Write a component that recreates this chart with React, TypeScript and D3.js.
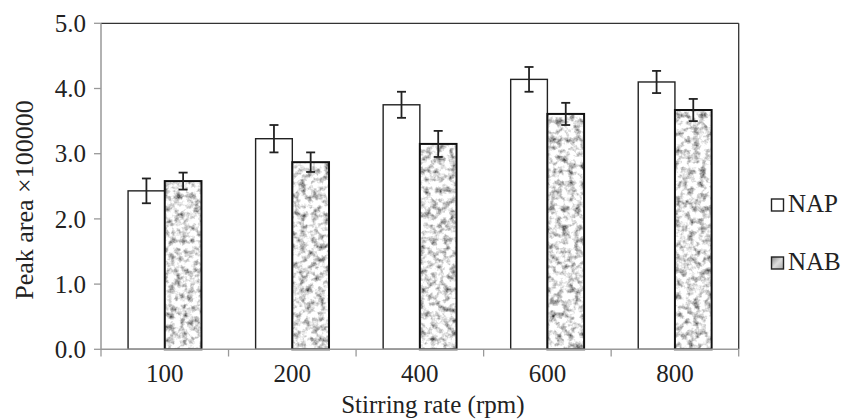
import React from "react";
import * as d3 from "d3";

const categories = ["100", "200", "400", "600", "800"];
const napValues = [2.43, 3.23, 3.75, 4.14, 4.10];
const napErrors = [0.19, 0.21, 0.20, 0.19, 0.17];
const nabValues = [2.58, 2.87, 3.15, 3.61, 3.67];
const nabErrors = [0.13, 0.15, 0.20, 0.17, 0.17];
const yTicks = [0, 1, 2, 3, 4, 5];
const seriesNames = ["NAP", "NAB"];

const W = 856;
const H = 419;
const left = 101;
const right = 738.7;
const top = 23.3;
const bottom = 349.3;
const FONT = "'Liberation Serif', 'Times New Roman', serif";
const FS = 25;

export default function App() {
  const x = d3.scaleBand<string>().domain(categories).range([left, right]).paddingInner(0).paddingOuter(0);
  const y = d3.scaleLinear().domain([0, 5]).range([bottom, top]);
  const bw = 36.7;
  const series = [
    { name: seriesNames[0], values: napValues, errors: napErrors, offset: -bw },
    { name: seriesNames[1], values: nabValues, errors: nabErrors, offset: 0 },
  ];
  const bounds = [...categories.map((c) => x(c)!), right];

  return (
    <svg width={W} height={H} style={{ position: "absolute", left: 0, top: 0, background: "#fff" }}>
      <defs>
        <filter id="noise" x="0" y="0" width="100%" height="100%" colorInterpolationFilters="sRGB">
          <feTurbulence type="fractalNoise" baseFrequency="0.16" numOctaves={3} seed={5} result="t" />
          <feColorMatrix
            in="t"
            type="matrix"
            values="1.9 0 0 0 -0.12  1.9 0 0 0 -0.12  1.9 0 0 0 -0.12  0 0 0 0 1"
            result="g"
          />
          <feComponentTransfer in="g" result="g2">
            <feFuncR type="gamma" amplitude="1" exponent="0.6" offset="0" />
            <feFuncG type="gamma" amplitude="1" exponent="0.6" offset="0" />
            <feFuncB type="gamma" amplitude="1" exponent="0.6" offset="0" />
          </feComponentTransfer>
          <feComposite in="g2" in2="SourceGraphic" operator="in" />
        </filter>
        <linearGradient id="legGrad" x1="0" y1="0" x2="1" y2="1">
          <stop offset="0" stopColor="#888" />
          <stop offset="0.5" stopColor="#ddd" />
          <stop offset="1" stopColor="#aaa" />
        </linearGradient>
      </defs>

      {/* bars */}
      {series.map((s, si) =>
        categories.map((c, i) => {
          const cx = x(c)! + x.bandwidth() / 2;
          const bx = cx + s.offset;
          const by = y(s.values[i]);
          const h = bottom - by;
          return (
            <g key={`${si}-${i}`}>
              {si === 1 ? (
                <rect x={bx} y={by} width={bw} height={h} fill="#ccc" filter="url(#noise)" />
              ) : (
                <rect x={bx} y={by} width={bw} height={h} fill="#fff" />
              )}
              <rect x={bx} y={by} width={bw} height={h} fill="none" stroke={si === 1 ? "#111" : "#222"} strokeWidth={si === 1 ? 2 : 1.4} />
            </g>
          );
        })
      )}

      {/* error bars */}
      {series.map((s, si) =>
        categories.map((c, i) => {
          const cx = x(c)! + x.bandwidth() / 2 + s.offset + bw / 2;
          const y1 = y(s.values[i] + s.errors[i]);
          const y2 = y(s.values[i] - s.errors[i]);
          return (
            <g key={`e${si}-${i}`} stroke="#222" strokeWidth={1.8}>
              <line x1={cx} x2={cx} y1={y1} y2={y2} />
              <line x1={cx - 4.5} x2={cx + 4.5} y1={y1} y2={y1} />
              <line x1={cx - 4.5} x2={cx + 4.5} y1={y2} y2={y2} />
            </g>
          );
        })
      )}

      {/* frame top/right */}
      <line x1={left} x2={right} y1={top} y2={top} stroke="#333" strokeWidth={1.3} />
      <line x1={right} x2={right} y1={top} y2={bottom} stroke="#333" strokeWidth={1.3} />

      {/* axes */}
      <line x1={left} x2={left} y1={top} y2={bottom} stroke="#999" strokeWidth={1.5} />
      <line x1={left} x2={right} y1={bottom} y2={bottom} stroke="#999" strokeWidth={1.5} />
      {yTicks.map((t) => (
        <g key={`yt${t}`}>
          <line x1={94} x2={left} y1={y(t)} y2={y(t)} stroke="#999" strokeWidth={1.3} />
          <text x={86} y={y(t)} dy="0.35em" textAnchor="end" fontFamily={FONT} fontSize={FS} fill="#222">
            {d3.format(".1f")(t)}
          </text>
        </g>
      ))}
      {bounds.map((b, i) => (
        <line key={`xt${i}`} x1={b} x2={b} y1={bottom} y2={356.5} stroke="#999" strokeWidth={1.3} />
      ))}
      {categories.map((c) => (
        <text key={`xl${c}`} x={x(c)! + x.bandwidth() / 2} y={382} textAnchor="middle" fontFamily={FONT} fontSize={FS} fill="#222">
          {c}
        </text>
      ))}

      {/* axis titles */}
      <text x={(left + right) / 2 + 13} y={413} textAnchor="middle" fontFamily={FONT} fontSize={FS} fill="#222">
        Stirring rate (rpm)
      </text>
      <text
        transform={`translate(33,200) rotate(-90)`}
        textAnchor="middle"
        fontFamily={FONT}
        fontSize={26}
        fill="#222"
      >
        Peak area ×100000
      </text>

      {/* legend */}
      {seriesNames.map((n, i) => {
        const ly = 199 + i * 58;
        return (
          <g key={`lg${n}`}>
            <rect x={771.5} y={ly} width={12} height={12} fill={i === 1 ? "url(#legGrad)" : "#fff"} stroke="#222" strokeWidth={1.4} />
            <text x={788} y={ly + 13} fontFamily={FONT} fontSize={FS} fill="#222">
              {n}
            </text>
          </g>
        );
      })}
    </svg>
  );
}
